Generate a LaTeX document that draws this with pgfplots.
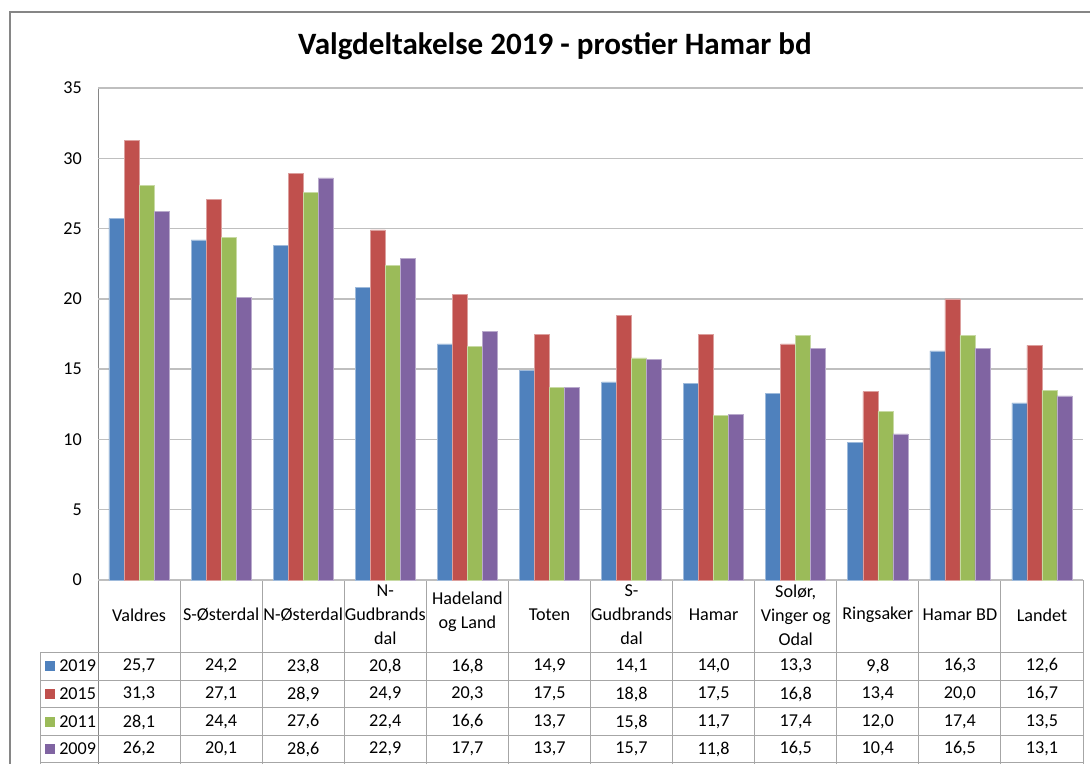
\documentclass[border=0pt]{standalone}
\usepackage{pgfplots}
\pgfplotsset{compat=1.18}
\usepackage{fontspec}
\setmainfont{Carlito}
\definecolor{c1}{HTML}{4F81BD}
\definecolor{c2}{HTML}{C0504D}
\definecolor{c3}{HTML}{9BBB59}
\definecolor{c4}{HTML}{8064A2}
\definecolor{bordergray}{HTML}{868686}
\definecolor{gridgray}{HTML}{BFBFBF}
\definecolor{tabgray}{HTML}{A6A6A6}
\newcommand{\tf}{\fontsize{13.6}{18}\selectfont}
\begin{document}
\begin{tikzpicture}
\begin{scope}[x=0.75pt,y=-0.75pt]
\path[use as bounding box] (0,0) rectangle (1090,764);
\fill[white] (0,0) rectangle (1090,764);
\draw[bordergray, line width=1.5pt] (10,800) -- (10,12) -- (1100,12);
\node[font=\bfseries\fontsize{23.3}{28}\selectfont] at (555,46) {Valgdeltakelse 2019 - prostier Hamar bd};
% left axis line
\draw[bordergray, line width=0.75pt] (98,88) -- (98,764);
% table lines
\draw[tabgray, line width=0.75pt] (98,580) -- (1083,580);
\foreach \yy in {652,680,707,735,762} {\draw[tabgray, line width=0.75pt] (40,\yy) -- (1083,\yy);}
\draw[tabgray, line width=0.75pt] (40,652) -- (40,764);
\foreach \k in {1,...,12} {\draw[tabgray, line width=0.75pt] ({98+82.083*\k},580) -- ({98+82.083*\k},764);}
% header labels
\begin{scope}[every node/.style={font=\tf, align=center, inner sep=0pt}]
\node at ({139.04+82.083*0},615) {Valdres};
\node at ({139.04+82.083*1},615) {S-Østerdal};
\node at ({139.04+82.083*2},615) {N-Østerdal};
\node at ({139.04+82.083*3},615) {N-\\Gudbrands\\dal};
\node at ({139.04+82.083*4},612) {Hadeland\\og Land};
\node at ({139.04+82.083*5},615) {Toten};
\node at ({139.04+82.083*6},615) {S-\\Gudbrands\\dal};
\node at ({139.04+82.083*7},615) {Hamar};
\node at ({139.04+82.083*8},615) {Solør,\\Vinger og\\Odal};
\node at ({139.04+82.083*9},615) {Ringsaker};
\node at ({139.04+82.083*10},615) {Hamar BD};
\node at ({139.04+82.083*11},615) {Landet};
% legend column
\fill[c1] (45,661) rectangle (55,671);
\fill[c2] (45,689) rectangle (55,699);
\fill[c3] (45,717) rectangle (55,727);
\fill[c4] (45,744) rectangle (55,754);
\node[anchor=west] at (59,666) {2019};
\node[anchor=west] at (59,694) {2015};
\node[anchor=west] at (59,722) {2011};
\node[anchor=west] at (59,749) {2009};
\foreach \v [count=\i from 0] in {{25,7},{24,2},{23,8},{20,8},{16,8},{14,9},{14,1},{14,0},{13,3},{9,8},{16,3},{12,6}}
  {\node at ({139.04+82.083*\i},666) {\v};}
\foreach \v [count=\i from 0] in {{31,3},{27,1},{28,9},{24,9},{20,3},{17,5},{18,8},{17,5},{16,8},{13,4},{20,0},{16,7}}
  {\node at ({139.04+82.083*\i},694) {\v};}
\foreach \v [count=\i from 0] in {{28,1},{24,4},{27,6},{22,4},{16,6},{13,7},{15,8},{11,7},{17,4},{12,0},{17,4},{13,5}}
  {\node at ({139.04+82.083*\i},722) {\v};}
\foreach \v [count=\i from 0] in {{26,2},{20,1},{28,6},{22,9},{17,7},{13,7},{15,7},{11,8},{16,5},{10,4},{16,5},{13,1}}
  {\node at ({139.04+82.083*\i},749) {\v};}
\end{scope}
\end{scope}
\begin{axis}[at={(73.5pt,-435pt)}, anchor=south west, scale only axis,
  width=738.75pt, height=369pt,
  xmin=-0.5, xmax=11.5, ymin=0, ymax=35,
  ytick={0,5,...,35}, xtick=\empty,
  ymajorgrids, grid style={draw=gridgray, line width=1.1pt},
  axis line style={draw=none}, major tick length=0pt,
  ybar=0pt, bar width=0.183,
  yticklabel style={font=\tf, /pgf/number format/assume math mode=true, inner sep=0pt, xshift=-12pt},
  clip=false]
\addplot[fill=c1, draw=c1!55!white, line width=0.4pt] coordinates {(0,25.7)(1,24.2)(2,23.8)(3,20.8)(4,16.8)(5,14.9)(6,14.1)(7,14.0)(8,13.3)(9,9.8)(10,16.3)(11,12.6)};
\addplot[fill=c2, draw=c2!55!white, line width=0.4pt] coordinates {(0,31.3)(1,27.1)(2,28.9)(3,24.9)(4,20.3)(5,17.5)(6,18.8)(7,17.5)(8,16.8)(9,13.4)(10,20.0)(11,16.7)};
\addplot[fill=c3, draw=c3!55!white, line width=0.4pt] coordinates {(0,28.1)(1,24.4)(2,27.6)(3,22.4)(4,16.6)(5,13.7)(6,15.8)(7,11.7)(8,17.4)(9,12.0)(10,17.4)(11,13.5)};
\addplot[fill=c4, draw=c4!55!white, line width=0.4pt] coordinates {(0,26.2)(1,20.1)(2,28.6)(3,22.9)(4,17.7)(5,13.7)(6,15.7)(7,11.8)(8,16.5)(9,10.4)(10,16.5)(11,13.1)};
\end{axis}
\end{tikzpicture}
\end{document}
